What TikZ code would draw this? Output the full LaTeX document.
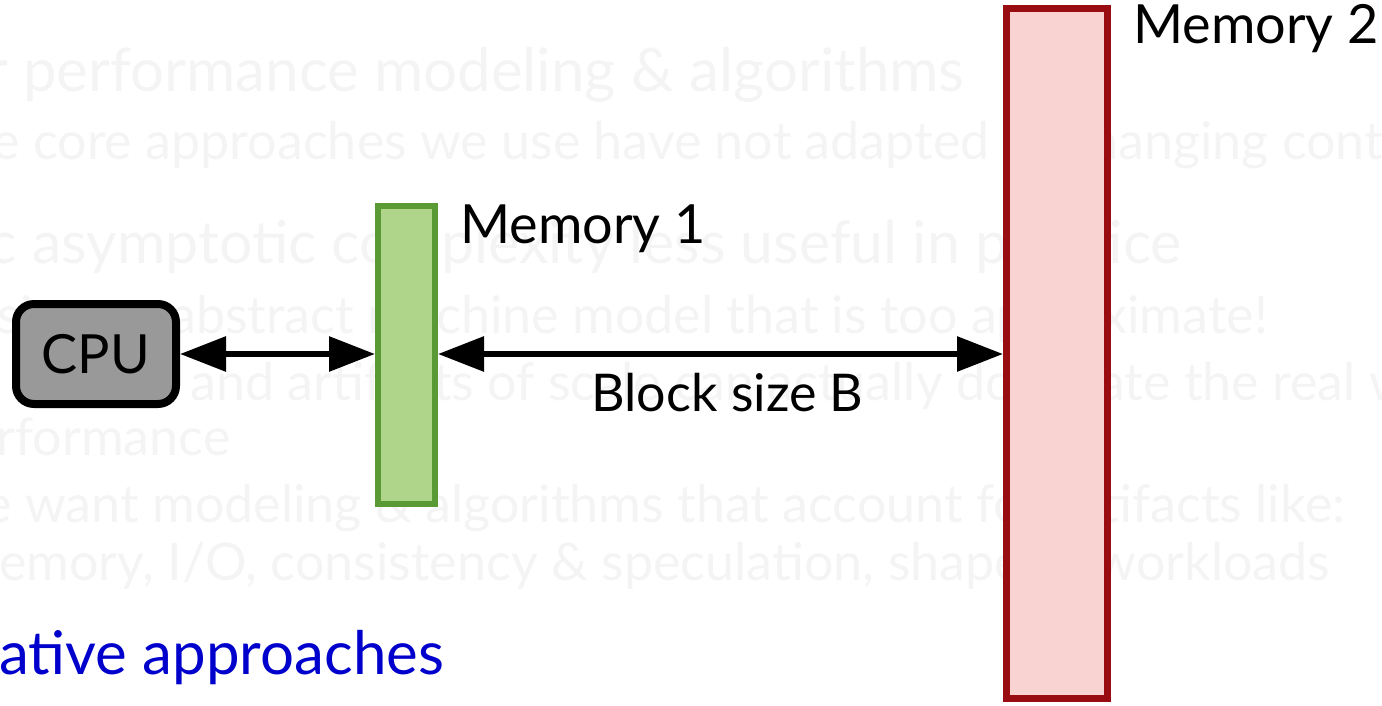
\documentclass[tikz,border=0pt]{standalone}
\usepackage{fontspec}
\setmainfont{Lato}
\usetikzlibrary{arrows.meta,positioning}
\definecolor{faint}{HTML}{F4F4F4}
\definecolor{cpugray}{HTML}{999999}
\definecolor{memgreen}{HTML}{AED58A}
\definecolor{memgreenline}{HTML}{5A9A35}
\definecolor{mempink}{HTML}{F9D3D2}
\definecolor{memred}{HTML}{990C12}
\definecolor{slideblue}{HTML}{0000CC}
\begin{document}
\begin{tikzpicture}[x=1pt,y=-1pt,
    bg/.style={anchor=base west,inner sep=0pt,text=faint,font=\fontsize{52}{62}\selectfont},
    bigbg/.style={bg,font=\fontsize{60}{72}\selectfont},
    lbl/.style={inner sep=0pt,font=\fontsize{54}{64}\selectfont},
    link/.style={line width=6pt,{Triangle[length=46pt,width=34pt]}-{Triangle[length=46pt,width=34pt]}}]
  \useasboundingbox (0,0) rectangle (1382,706);
  \clip (0,0) rectangle (1382,706);
  \node[bigbg] (t1) at (23,92) {\llap{r }performance modeling \& algorithms};
  \node[bg] (t2) at (33,160) {\llap{e }core approaches we use have not adapted to changing contexts};
  \node[bigbg,font=\fontsize{59}{70}\selectfont] (t3) at (32,263) {\llap{c }asymptotic complexity less useful in practice};
  \node[bg,anchor=base east] (t4) at (1268,333) {using an abstract machine model that is too approximate!};
  \node[bg] (t5) at (190,400) {\llap{factors }and artifacts of scale can actually dominate the real world};
  \node[bg] (t6) at (15,455) {\llap{r}formance};
  \node[bg] (t7) at (25,522) {\llap{e }want modeling \& algorithms that account for artifacts like:};
  \node[bg] (t8) at (-1,580) {\llap{M}emory, I/O, consistency \& speculation, shape of workloads};
  \node[bigbg,text=slideblue] (t9) at (-1,674) {\llap{Altern}ative approaches};

  \node[draw=black,line width=8pt,fill=cpugray,rounded corners=18pt,
        minimum width=160pt,minimum height=100pt,lbl] (cpu) at (96,354) {CPU};
  \node[draw=memgreenline,line width=6pt,fill=memgreen,
        minimum width=57pt,minimum height=298pt] (mem1) at (406.5,355) {};
  \node[draw=memred,line width=7pt,fill=mempink,
        minimum width=101pt,minimum height=690pt] (mem2) at (1057,353.5) {};
  \node[lbl,anchor=base west] (mem1lbl) at (460,243) {Memory 1};
  \node[lbl,anchor=base west] (mem2lbl) at (1133,44) {Memory 2};

  \draw[link] (cpu.east) -- (cpu.east -| mem1.west);
  \draw[link] (mem1.east |- cpu.east) -- (cpu.east -| mem2.west)
    node[lbl,font=\fontsize{52}{62}\selectfont,midway,anchor=base,xshift=7pt,yshift=-57pt] (blk) {Block size B};
\end{tikzpicture}
\end{document}
